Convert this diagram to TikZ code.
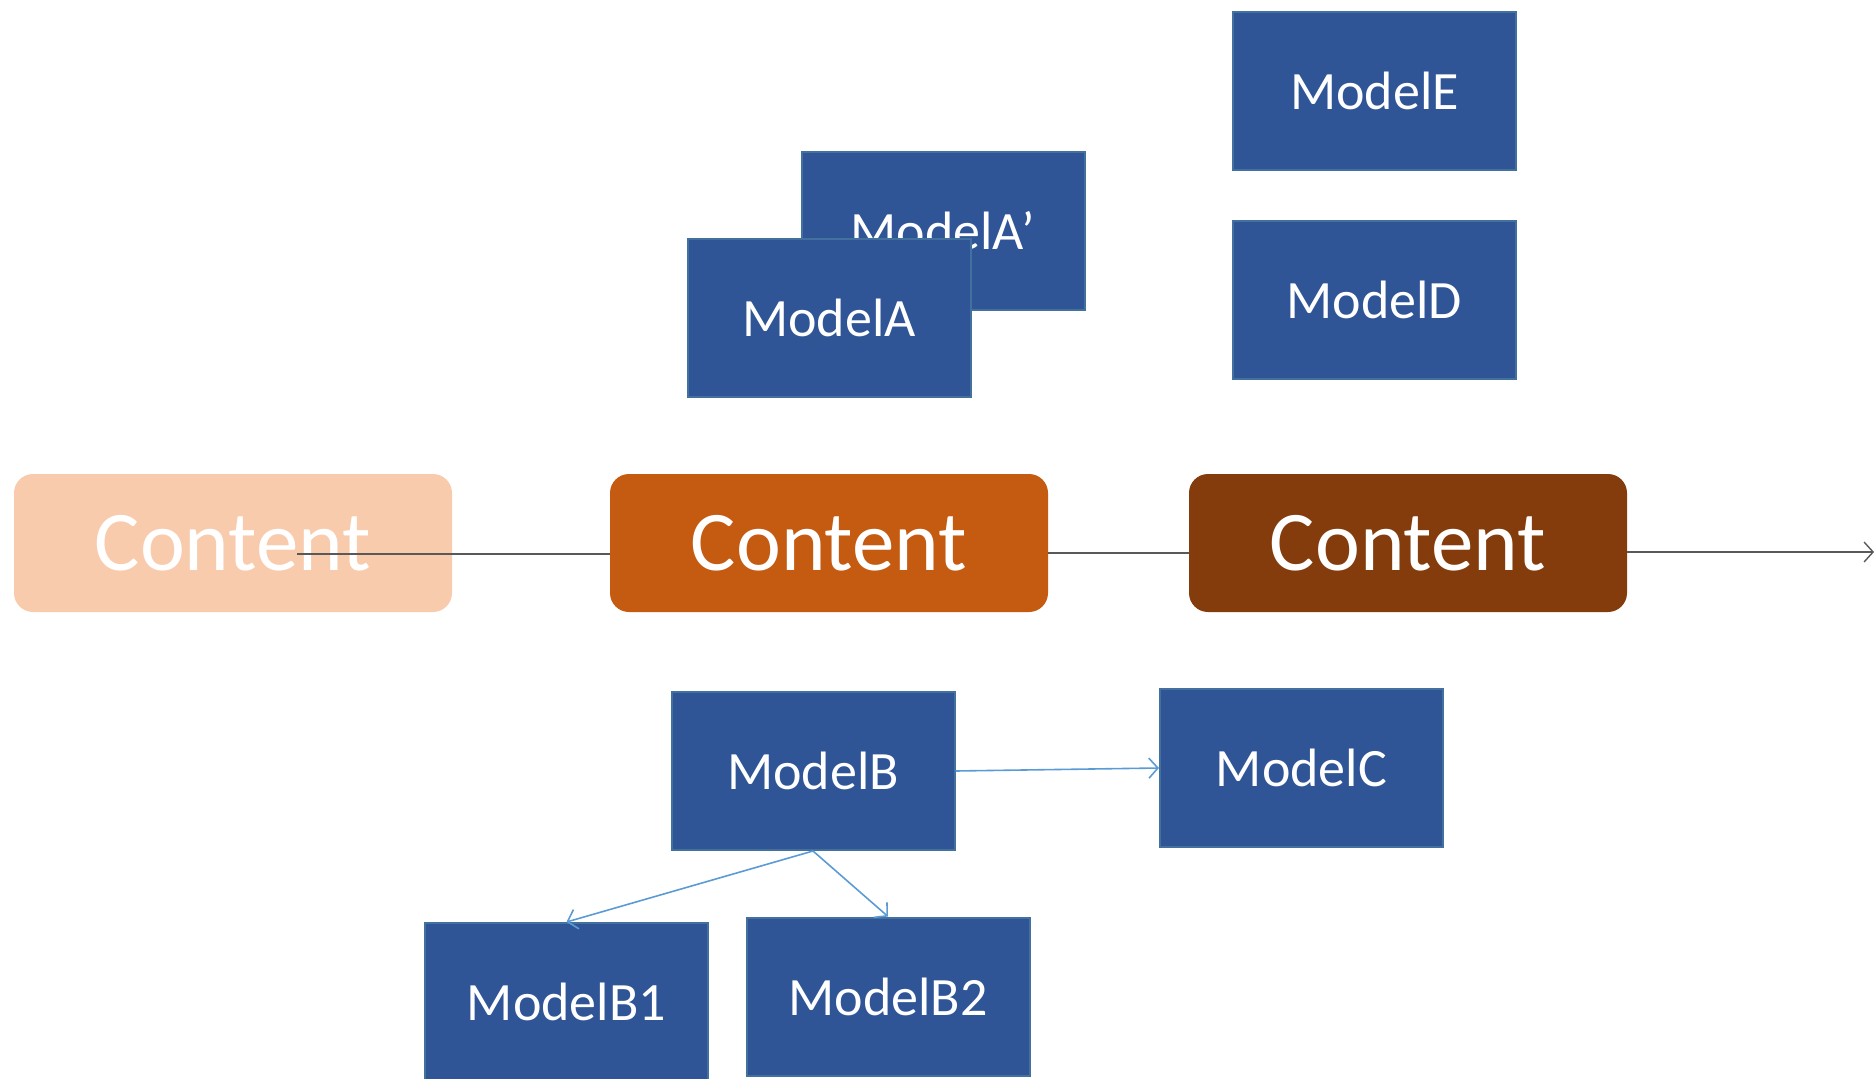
\documentclass[tikz,border=0pt]{standalone}
\usepackage{fontspec}
\setmainfont{Carlito}
\usetikzlibrary{arrows.meta}
\definecolor{mblue}{HTML}{2F5597}
\definecolor{mborder}{HTML}{41719C}
\definecolor{arrblue}{HTML}{5B9BD5}
\definecolor{cone}{HTML}{F8CBAD}
\definecolor{ctwo}{HTML}{C55A11}
\definecolor{cthree}{HTML}{843C0C}
\definecolor{lgray}{HTML}{595959}
\tikzset{
  modelbox/.style={draw=mborder, line width=2pt, fill=mblue, text=white,
    minimum width=283pt, minimum height=158pt, inner sep=0pt,
    font=\fontsize{54}{62}\selectfont},
  contentbox/.style={fill=#1, rounded corners=19pt, text=white,
    minimum width=438pt, minimum height=138pt, inner sep=0pt,
    font=\fontsize{85}{98}\selectfont},
  blueconn/.style={draw=arrblue, line width=1.6pt, -{Straight Barb[length=9pt,width=20pt,line width=1.6pt]}},
  grayconn/.style={draw=lgray, line width=1.4pt},
}
\begin{document}
\begin{tikzpicture}[x=1pt,y=-1pt]
\useasboundingbox (0,0) rectangle (1875,1079);
% content boxes
\node[contentbox=cone] (c1) at (233,543) {\raisebox{-3pt}{Content}};
\node[contentbox=ctwo] (c2) at (829,543) {\raisebox{-3pt}{Content}};
\node[contentbox=cthree] (c3) at (1408,543) {\raisebox{-3pt}{Content}};
% models
\node[modelbox] (me) at (1374.5,91) {ModelE};
\node[modelbox] (md) at (1374.5,299.5) {ModelD};
\node[modelbox] (map) at (943,231) {ModelA’};
\node[modelbox] (ma) at (829,317.5) {ModelA};
\node[modelbox] (mb) at (813,771) {ModelB};
\node[modelbox] (mc) at (1301.5,768) {ModelC};
\node[modelbox] (mbone) at (566.5,1002) {ModelB1};
\node[modelbox] (mbtwo) at (888,996.5) {ModelB2};
% timeline
\coordinate (s) at (297,554);
\coordinate (e) at (1874,552);
\draw[grayconn] (s) -- (s -| c2.west);
\draw[grayconn] (c2.east |- 0,553) -- (c3.west |- 0,553);
\draw[grayconn, -{Straight Barb[length=9pt,width=20pt,line width=1.4pt]}] (c3.east |- e) -- (e);
% blue arrows
\draw[blueconn] (mb.east) -- (mc.west);
\draw[blueconn] (mb.south) -- (mbone.north);
\draw[blueconn] (mb.south) -- (mbtwo.north);
\end{tikzpicture}
\end{document}
